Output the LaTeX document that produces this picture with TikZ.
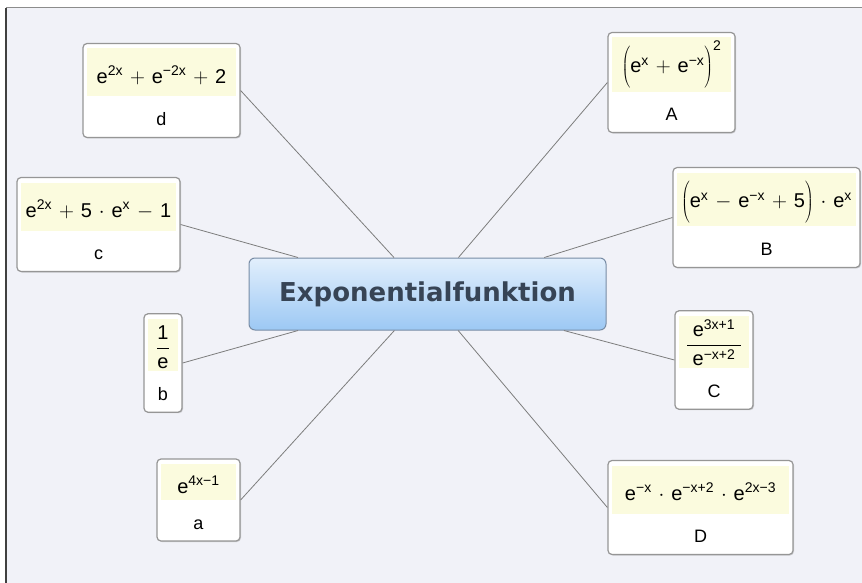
\documentclass[tikz,border=0pt]{standalone}
\usepackage{fontspec}
\setmainfont{Liberation Sans}
\newfontfamily\titelfont{DejaVu Sans}
\usepackage{xcolor}
\definecolor{hgrund}{RGB}{241,242,248}
\definecolor{formelgelb}{RGB}{251,251,222}
\definecolor{rahmengrau}{RGB}{150,150,150}
\definecolor{linie}{RGB}{125,125,125}
\definecolor{blauoben}{RGB}{226,239,252}
\definecolor{blauunten}{RGB}{156,200,244}
\definecolor{blaurand}{RGB}{120,140,165}
\definecolor{titeltext}{RGB}{55,68,85}
\usepackage{tikz}
\usetikzlibrary{shadows}

%% Formelbausteine
\newcommand{\hoch}[1]{\mbox{\fontsize{14}{14}\selectfont #1}}
\newcommand{\expo}[1]{\mbox{e}^{\hoch{#1}}}
\newcommand{\gelbstrut}{\rule[-10pt]{0pt}{42pt}}
\newcommand{\kurzstrut}{\rule[-4pt]{0pt}{30pt}}
\newcommand{\klammer}{\rule[-12pt]{0pt}{40pt}}
\newcommand{\knoten}[4][\gelbstrut]{%
  \setlength{\fboxsep}{3pt}%
  \colorbox{formelgelb}{\fontsize{20}{24}\selectfont
    #1\makebox[#2]{$\medmuskip=6mu #3$}}\\
  \rule[-7pt]{0pt}{35pt}#4}

\begin{document}
\begin{tikzpicture}[
  x=1pt, y=-1pt,
  font=\fontsize{18}{21}\selectfont,
  thema/.style={rectangle, rounded corners=6pt, draw=blaurand,
                line width=1pt, top color=blauoben, bottom color=blauunten,
                minimum width=357pt, minimum height=72pt,
                font=\titelfont\bfseries\fontsize{26}{30}\selectfont,
                text=titeltext},
  ast/.style={rectangle, rounded corners=4pt, draw=rahmengrau,
              line width=1.2pt, fill=white, align=center,
              inner xsep=4pt, inner ysep=5pt,
              drop shadow={shadow xshift=1pt, shadow yshift=-1pt,
                           opacity=0.35}},
  verbindung/.style={draw=linie, line width=0.8pt},
]
\useasboundingbox (0,0) rectangle (862,583);

%% --- Hintergrund ---
\fill[hgrund] (6,8) rectangle (862,583);
\draw[black!45, line width=1pt] (6,8) -- (862,8);
\draw[black!75, line width=1.6pt] (6,583) -- (6,8);

%% --- Mitte ---
\node[thema] (expo) at (427.5,294) {Exponentialfunktion};

%% --- linke Seite ---
\node[ast] (d) at (161.5,90.5)
  {\knoten{143pt}{\expo{2x}+\expo{−2x}+\mbox{2}}{d}};
\node[ast] (c) at (98.5,224.5)
  {\knoten{149pt}{\expo{2x}+\mbox{5}\cdot\expo{x}-\mbox{1}}{c}};
\node[ast] (b) at (163,363)
  {\knoten{24pt}{\displaystyle\frac{\mbox{1}}{\mbox{e}}}{b}};
\node[ast] (a) at (198.5,500)
  {\knoten[\kurzstrut]{69pt}{\expo{4x−1}}{a}};

%% --- rechte Seite ---
\node[ast] (A) at (671.5,82.5)
  {\knoten{113pt}{\left(\klammer\expo{x}+\expo{−x}\right)^{\hoch{2}}}{A}};
\node[ast] (B) at (766.5,217.5)
  {\knoten{173pt}{\left(\klammer\expo{x}-\expo{−x}+\mbox{5}\right)\cdot\expo{x}}{B}};
\node[ast] (C) at (714,360)
  {\knoten{64pt}{\displaystyle\frac{\;\expo{3x+1}\;}{\expo{−x+2}}}{C}};
\node[ast] (D) at (700.5,507.5)
  {\knoten{171pt}{\expo{−x}\cdot\expo{−x+2}\cdot\expo{2x−3}}{D}};

%% --- Verbindungen ---
\foreach \n/\s in {d/east, c/east, b/east, a/east,
                   A/west, B/west, C/west, D/west}
  \draw[verbindung] (\n.\s) -- (expo);
\end{tikzpicture}
\end{document}
